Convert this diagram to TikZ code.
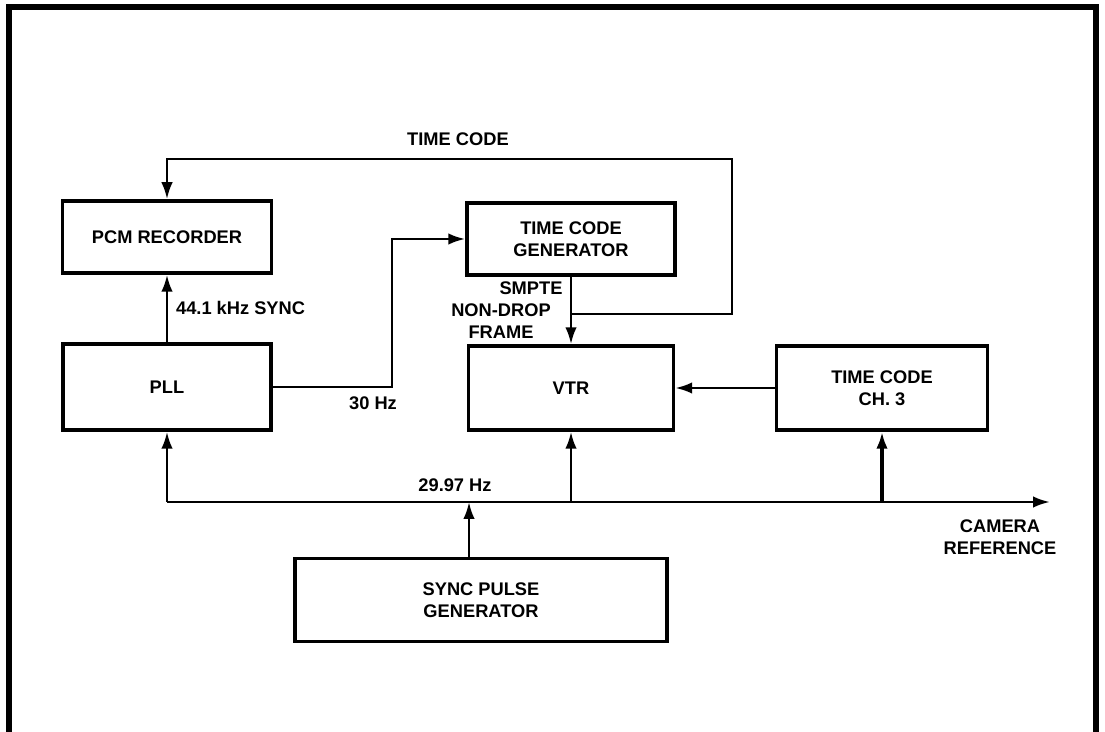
\documentclass[tikz,border=0pt]{standalone}
\usepackage{fontspec}
\setmainfont{Liberation Sans}
\usetikzlibrary{arrows.meta}
\tikzset{
  block/.style={draw=black, line width=2pt, align=center, inner sep=1pt,
    font=\bfseries\fontsize{10.4}{12.4}\selectfont},
  lbl/.style={inner sep=1pt, font=\bfseries\fontsize{10.4}{12.4}\selectfont},
  conn/.style={line width=1.5pt, -{Latex[length=3.4mm,width=2.3mm]}},
  frame/.style={line width=3pt}
}
\begin{document}
\begin{tikzpicture}[x=0.02cm,y=-0.02cm]
  \useasboundingbox (0,0) rectangle (1105,732);
  \draw[frame] (9,732) -- (9,7) -- (1096,7) -- (1096,732);

  \node[block, minimum width=4.18cm, minimum height=1.44cm] (pcm) at (167,237) {PCM RECORDER};
  \node[block, minimum width=4.16cm, minimum height=1.72cm] (pll) at (167,387) {PLL};
  \node[block, minimum width=4.16cm, minimum height=1.44cm] (tcg) at (571,239) {TIME CODE\\GENERATOR};
  \node[block, minimum width=4.1cm, minimum height=1.68cm] (vtr) at (571,388) {VTR};
  \node[block, minimum width=4.22cm, minimum height=1.68cm] (tcch) at (882,388) {TIME CODE\\CH. 3};
  \node[block, minimum width=7.44cm, minimum height=1.66cm] (spg) at (481,600) {SYNC PULSE\\GENERATOR};

  \node[lbl] (tclbl) at (458,139) {TIME CODE};
  \node[lbl, anchor=west] (synclbl) at (174,308) {44.1 kHz SYNC};
  \node[lbl] (hzthirty) at (373,403) {30 Hz};
  \node[lbl, align=center] (smpte) at (501,310) {\hspace*{1.2cm}SMPTE\\NON-DROP\\FRAME};
  \node[lbl] (hzntsc) at (455,485) {29.97 Hz};
  \node[lbl, align=center] (camlbl) at (1000,537) {CAMERA\\REFERENCE};

  \coordinate (bus) at (469,502);
  \coordinate (busend) at (1050,502);
  \coordinate (tcjoin) at (571,314);
  \coordinate (tcret) at (732,159);
  \coordinate (hzbend) at (392,382);

  \draw[conn] (pll) -- (pcm);
  \draw[conn] (pll.east) -- (pll.east -| hzbend) -- (hzbend |- tcg.west) -- (tcg.west);
  \draw[conn] (tcg) -- (vtr);
  \draw[conn] (tcjoin) -- (tcret |- tcjoin) -- (tcret) -- (pcm.north |- tcret) -- (pcm.north);
  \draw[conn] (tcch) -- (vtr);
  \draw[conn] (pll.south |- bus) -- (busend);
  \draw[conn] (pll.south |- bus) -- (pll.south);
  \draw[conn] (vtr.south |- bus) -- (vtr.south);
  \draw[conn, line width=2.3pt] (tcch.south |- bus) -- (tcch.south);
  \draw[conn] (bus |- spg.north) -- (bus);
\end{tikzpicture}
\end{document}
